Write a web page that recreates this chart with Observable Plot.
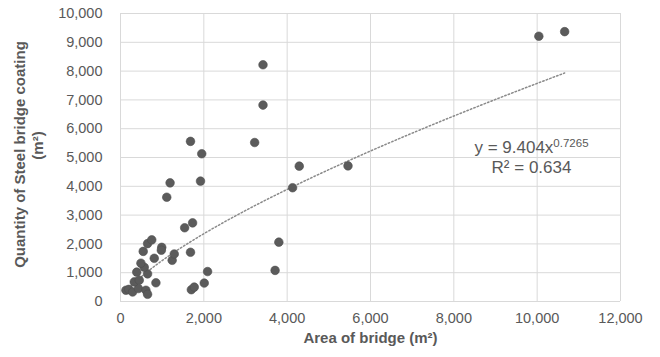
<!DOCTYPE html>
<html>
<head>
<meta charset="utf-8">
<script src="https://cdn.jsdelivr.net/npm/d3@7"></script>
<script src="https://cdn.jsdelivr.net/npm/@observablehq/plot@0.6"></script>
<style>
  html, body { margin: 0; padding: 0; background: #ffffff; }
  #chart { width: 660px; height: 357px; }
</style>
</head>
<body>
<div id="chart"></div>
<script>
// Area of bridge (m²) — x values
const areaX = [
  130, 200, 290, 430, 610, 650, 330, 450, 850, 650,
  390, 570, 490, 810, 1240, 1290, 545, 990, 650, 750,
  980, 1110, 1190, 1540, 1730, 1680, 1700, 1770, 2010, 2090,
  1920, 1950, 1680, 3220, 3420, 3420, 3710, 3800, 4130, 4290,
  5460, 10040, 10660
];
// Quantity of steel bridge coating (m²) — y values
const coatingY = [
  390, 420, 330, 450, 390, 250, 680, 740, 650, 960,
  1020, 1190, 1330, 1500, 1430, 1650, 1740, 1880, 2010, 2140,
  1780, 3620, 4120, 2560, 2730, 1710, 410, 500, 640, 1040,
  4180, 5130, 5560, 5520, 6820, 8220, 1080, 2060, 3950, 4700,
  4710, 9210, 9370
];
const xTicks = [0, 2000, 4000, 6000, 8000, 10000, 12000];
const yTicks = [0, 1000, 2000, 3000, 4000, 5000, 6000, 7000, 8000, 9000, 10000];

// Power trendline shown in the chart: y = a * x^b
const trendA = 9.404;
const trendB = 0.7265;
const rSquared = 0.634;

const xTitle = "Area of bridge (m²)";
const yTitle1 = "Quantity of Steel bridge coating";
const yTitle2 = "(m²)";

const points = areaX.map((x, i) => ({x, y: coatingY[i]}));
const xMin = d3.min(areaX), xMax = d3.max(areaX);
const trend = d3.range(0, 201).map(i => {
  const x = xMin + (xMax - xMin) * i / 200;
  return {x, y: trendA * Math.pow(x, trendB)};
});

const fmt = d3.format(",");
const grey = "#595959";

const chart = Plot.plot({
  width: 660,
  height: 357,
  marginLeft: 120,
  marginRight: 40,
  marginTop: 13,
  marginBottom: 56,
  style: {fontFamily: "'Liberation Sans', Arial, sans-serif", fontSize: "14.5px", color: grey, background: "#ffffff"},
  x: {domain: [0, 12000]},
  y: {domain: [0, 10000]},
  marks: [
    Plot.gridX(xTicks, {stroke: "#d9d9d9", strokeOpacity: 1, strokeWidth: 1}),
    Plot.gridY(yTicks, {stroke: "#d9d9d9", strokeOpacity: 1, strokeWidth: 1}),
    Plot.axisX({ticks: xTicks, tickSize: 0, tickPadding: 11, tickFormat: fmt, label: null, fill: grey}),
    Plot.axisY({ticks: yTicks, tickSize: 0, tickPadding: 18, tickFormat: fmt, label: null, fill: grey}),
    Plot.line(trend, {x: "x", y: "y", stroke: "#8a8a8a", strokeWidth: 1.5, strokeDasharray: "1.5,2.2"}),
    Plot.dot(points, {x: "x", y: "y", r: 4.3, fill: "#5b5b5b", stroke: "#4f4f4f", strokeWidth: 0.6}),
    Plot.text([xTitle], {frameAnchor: "bottom", dy: 41, text: d => d, fontWeight: "bold", fontSize: 15, fill: grey}),
    Plot.text([yTitle1], {frameAnchor: "left", textAnchor: "middle", dx: -100, dy: -3, rotate: -90, text: d => d, fontWeight: "bold", fontSize: 15, fill: grey}),
    Plot.text([yTitle2], {frameAnchor: "left", textAnchor: "middle", dx: -82, dy: -12, rotate: -90, text: d => d, fontWeight: "bold", fontSize: 15, fill: grey}),
    Plot.text([{x: 9864, y: 5347}], {x: "x", y: "y", text: d => `y = ${trendA}x`, fontSize: 17, fill: grey, className: "eq1"}),
    Plot.text([{x: 9864, y: 4653}], {x: "x", y: "y", text: d => `R² = ${rSquared}`, fontSize: 17, fill: grey})
  ]
});

// add the superscript exponent to the equation label
d3.select(chart).selectAll("g.eq1 text").each(function() {
  const t = d3.select(this);
  const base = t.text();
  t.text(null);
  t.append("tspan").text(base);
  t.append("tspan").attr("dy", "-0.55em").attr("font-size", "11.5px").text(String(trendB));
});

document.getElementById("chart").appendChild(chart);
</script>
</body>
</html>
